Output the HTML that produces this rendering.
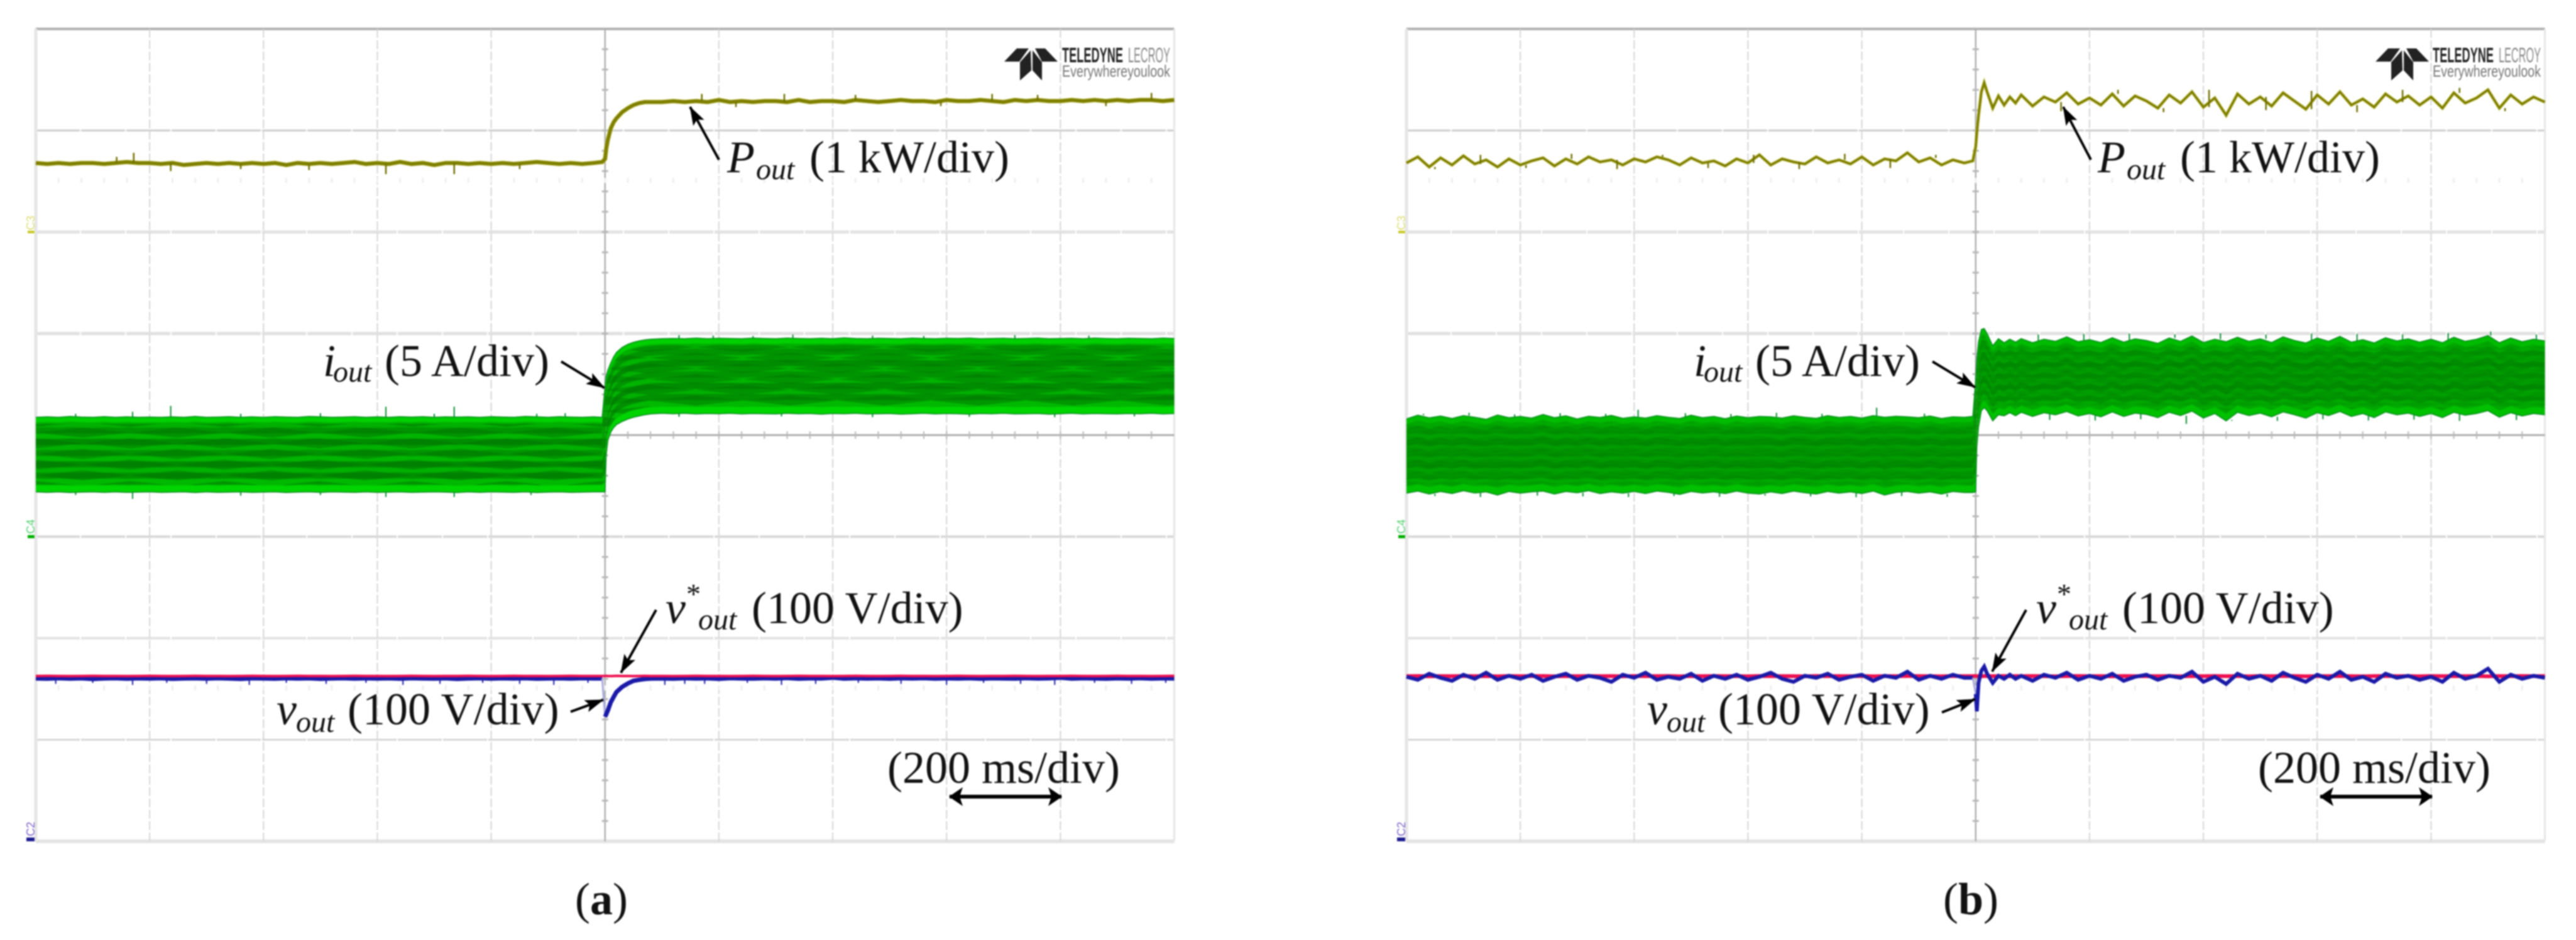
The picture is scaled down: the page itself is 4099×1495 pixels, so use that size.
<!DOCTYPE html>
<html lang="en">
<head>
<meta charset="utf-8">
<title>Oscilloscope step response, panels a and b</title>
<style>
html,body{margin:0;padding:0;background:#fff;}
body{width:4099px;height:1495px;overflow:hidden;}
svg{display:block;}
#plots,.annot{filter:blur(1px);}
text{font-family:"Liberation Serif",serif;fill:#111;}
.it{font-style:italic;}
.logo{font-family:"Liberation Sans",sans-serif;}
</style>
</head>
<body>
<svg id="figure" width="4099" height="1495" viewBox="0 0 4099 1495" xmlns="http://www.w3.org/2000/svg">
<defs>
<marker id="ah" markerWidth="30" markerHeight="20" refX="29" refY="10" orient="auto" markerUnits="userSpaceOnUse"><path d="M0 0L30 10L0 20L6 10z" fill="#000"/></marker>
<marker id="dh" markerWidth="22" markerHeight="30" refX="21" refY="15" orient="auto-start-reverse" markerUnits="userSpaceOnUse"><path d="M0 0L22 15L0 30L5 15z" fill="#000"/></marker>
<pattern id="moireA" patternUnits="userSpaceOnUse" x="57" y="0" width="150" height="34"><path d="M0 8L75 0L150 8L75 16zM-75 25L0 17L75 25L0 33zM75 25L150 17L225 25L150 33z" fill="#007400" opacity="0.5"/></pattern>
<pattern id="moireB" patternUnits="userSpaceOnUse" x="2238" y="0" width="70" height="18"><path d="M0 4L35 0L70 4L35 8zM-35 13L0 9L35 13L0 17zM35 13L70 9L105 13L70 17z" fill="#007400" opacity="0.22"/></pattern>
</defs>
<rect width="4099" height="1495" fill="#fff"/>
<g id="plots"></g>

<g class="annot">
  <g>
    <text class="it" x="1157" y="274" font-size="72">P</text><text class="it" x="1203" y="285" font-size="48">out</text><text x="1288" y="274" font-size="72">(1 kW/div)</text>
  </g>
  <line x1="1144" y1="254" x2="1098" y2="170" stroke="#000" stroke-width="4" marker-end="url(#ah)"/>
  <g>
    <text class="it" x="514" y="598" font-size="72">i</text><text class="it" x="530" y="607" font-size="48">out</text><text x="612" y="598" font-size="72">(5 A/div)</text>
  </g>
  <line x1="893" y1="575" x2="962" y2="617" stroke="#000" stroke-width="4" marker-end="url(#ah)"/>
  <g>
    <text class="it" x="1059" y="991" font-size="72">v</text><text x="1092" y="960" font-size="46">*</text><text class="it" x="1111" y="1001" font-size="48">out</text><text x="1196" y="991" font-size="72">(100 V/div)</text>
  </g>
  <line x1="1044" y1="970" x2="988" y2="1070" stroke="#000" stroke-width="4" marker-end="url(#ah)"/>
  <g>
    <text class="it" x="440" y="1152" font-size="72">v</text><text class="it" x="471" y="1164" font-size="48">out</text><text x="553" y="1152" font-size="72">(100 V/div)</text>
  </g>
  <line x1="908" y1="1132" x2="960" y2="1113" stroke="#000" stroke-width="4" marker-end="url(#ah)"/>
  <text x="1412" y="1245" font-size="72">(200 ms/div)</text>
  <line x1="1511" y1="1267" x2="1689" y2="1267" stroke="#000" stroke-width="6" marker-start="url(#dh)" marker-end="url(#dh)"/>
  <g>
    <polygon points="1598,98 1618,77 1637,77 1622,98" fill="#222"/>
    <polygon points="1647,77 1663,77 1683,98 1658,98" fill="#222"/>
    <polygon points="1623,99 1640,80 1641,112 1623,128" fill="#222"/>
    <polygon points="1643,80 1658,99 1658,128 1643,112" fill="#222"/>
    <text class="logo" x="1690" y="99" font-size="33" font-weight="700" textLength="97" lengthAdjust="spacingAndGlyphs" style="fill:#222">TELEDYNE</text>
    <text class="logo" x="1795" y="99" font-size="33" textLength="67" lengthAdjust="spacingAndGlyphs" style="fill:#888">LECROY</text>
    <text class="logo" x="1690" y="122" font-size="26" textLength="172" lengthAdjust="spacingAndGlyphs" style="fill:#777">Everywhereyoulook</text>
  </g>
  <text x="915" y="1454" font-size="72">(<tspan font-weight="700">a</tspan>)</text>
  <g>
    <text transform="translate(55,366) rotate(-90)" font-size="18" style="fill:#dcdc70;font-family:'Liberation Sans',sans-serif">C3</text>
    <rect x="44" y="367" width="11" height="4" fill="#c8c820"/>
    <text transform="translate(55,849) rotate(-90)" font-size="18" style="fill:#50d070;font-family:'Liberation Sans',sans-serif">C4</text>
    <rect x="44" y="851" width="11" height="5" fill="#00b000"/>
    <text transform="translate(55,1330) rotate(-90)" font-size="18" style="fill:#7a60c8;font-family:'Liberation Sans',sans-serif">C2</text>
    <rect x="42" y="1332" width="13" height="6" fill="#1a1a90"/>
  </g>
</g>

<g class="annot">
  <g>
    <text class="it" x="3338" y="274" font-size="72">P</text><text class="it" x="3384" y="285" font-size="48">out</text><text x="3469" y="274" font-size="72">(1 kW/div)</text>
  </g>
  <line x1="3327" y1="254" x2="3283" y2="170" stroke="#000" stroke-width="4" marker-end="url(#ah)"/>
  <g>
    <text class="it" x="2695" y="598" font-size="72">i</text><text class="it" x="2711" y="607" font-size="48">out</text><text x="2793" y="598" font-size="72">(5 A/div)</text>
  </g>
  <line x1="3075" y1="575" x2="3143" y2="616" stroke="#000" stroke-width="4" marker-end="url(#ah)"/>
  <g>
    <text class="it" x="3240" y="991" font-size="72">v</text><text x="3273" y="960" font-size="46">*</text><text class="it" x="3292" y="1001" font-size="48">out</text><text x="3377" y="991" font-size="72">(100 V/div)</text>
  </g>
  <line x1="3224" y1="970" x2="3170" y2="1068" stroke="#000" stroke-width="4" marker-end="url(#ah)"/>
  <g>
    <text class="it" x="2621" y="1152" font-size="72">v</text><text class="it" x="2652" y="1164" font-size="48">out</text><text x="2734" y="1152" font-size="72">(100 V/div)</text>
  </g>
  <line x1="3090" y1="1133" x2="3143" y2="1112" stroke="#000" stroke-width="4" marker-end="url(#ah)"/>
  <text x="3593" y="1245" font-size="72">(200 ms/div)</text>
  <line x1="3692" y1="1267" x2="3870" y2="1267" stroke="#000" stroke-width="6" marker-start="url(#dh)" marker-end="url(#dh)"/>
  <g>
    <polygon points="3780,98 3800,77 3819,77 3804,98" fill="#222"/>
    <polygon points="3829,77 3845,77 3865,98 3840,98" fill="#222"/>
    <polygon points="3805,99 3822,80 3823,112 3805,128" fill="#222"/>
    <polygon points="3825,80 3840,99 3840,128 3825,112" fill="#222"/>
    <text class="logo" x="3871" y="99" font-size="33" font-weight="700" textLength="97" lengthAdjust="spacingAndGlyphs" style="fill:#222">TELEDYNE</text>
    <text class="logo" x="3976" y="99" font-size="33" textLength="67" lengthAdjust="spacingAndGlyphs" style="fill:#888">LECROY</text>
    <text class="logo" x="3871" y="122" font-size="26" textLength="172" lengthAdjust="spacingAndGlyphs" style="fill:#777">Everywhereyoulook</text>
  </g>
  <text x="3092" y="1454" font-size="72">(<tspan font-weight="700">b</tspan>)</text>
  <g>
    <text transform="translate(2236,366) rotate(-90)" font-size="18" style="fill:#dcdc70;font-family:'Liberation Sans',sans-serif">C3</text>
    <rect x="2225" y="367" width="11" height="4" fill="#c8c820"/>
    <text transform="translate(2236,849) rotate(-90)" font-size="18" style="fill:#50d070;font-family:'Liberation Sans',sans-serif">C4</text>
    <rect x="2225" y="851" width="11" height="5" fill="#00b000"/>
    <text transform="translate(2236,1330) rotate(-90)" font-size="18" style="fill:#7a60c8;font-family:'Liberation Sans',sans-serif">C2</text>
    <rect x="2223" y="1332" width="13" height="6" fill="#1a1a90"/>
  </g>
</g>
</svg>

<script>
// Sample times in ms relative to the load step (200 ms/div, 10 divisions).
const timeMs = [
-1000,-980,-960,-940,-920,-900,-880,-860,-840,-820,
-800,-780,-760,-740,-720,-700,-680,-660,-640,-620,
-600,-580,-560,-540,-520,-500,-480,-460,-440,-420,
-400,-380,-360,-340,-320,-300,-280,-260,-240,-220,
-200,-180,-160,-140,-120,-100,-80,-60,-40,-20,
-5,0,2,5,10,15,20,30,40,50,60,70,80,
100,120,140,160,180,200,220,240,260,280,
300,320,340,360,380,400,420,440,460,480,
500,520,540,560,580,600,620,640,660,680,
700,720,740,760,780,800,820,840,860,880,
900,920,940,960,980,1000];

// Panel (a): output power in kW.
const powerA = [
.68,.67,.68,.67,.68,.68,.67,.68,.69,.68,
.68,.67,.68,.66,.67,.68,.67,.68,.67,.68,
.67,.68,.66,.68,.67,.68,.67,.68,.69,.67,
.68,.67,.69,.67,.68,.66,.68,.68,.67,.68,
.67,.68,.67,.68,.69,.68,.67,.68,.67,.68,
.69,.72,.82,.91,1.02,1.08,1.12,1.18,1.22,1.25,1.27,1.28,1.28,
1.28,1.29,1.28,1.29,1.28,1.30,1.28,1.29,1.28,1.29,
1.29,1.28,1.30,1.28,1.29,1.29,1.28,1.30,1.29,1.28,
1.29,1.30,1.29,1.29,1.28,1.30,1.29,1.29,1.30,1.29,
1.28,1.30,1.29,1.30,1.29,1.29,1.30,1.29,1.30,1.29,
1.30,1.29,1.30,1.30,1.29,1.30];
const powerSpikeTimesA = [-858,-828,-763,-640,-520,-385,-265,-150,170,230,315,440,590,680,760,880,960];
const powerSpikeValuesA = [.74,.78,.60,.62,.61,.57,.57,.62,1.36,1.23,1.36,1.35,1.24,1.36,1.35,1.24,1.37];

// Panel (a): output current envelope in A.
const currentUpperA = [
5.88,5.90,5.88,5.92,5.89,5.88,5.91,5.88,5.90,5.88,
5.89,5.88,5.90,5.88,5.92,5.88,5.89,5.91,5.88,5.90,
5.88,5.91,5.89,5.88,5.92,5.90,5.88,5.89,5.91,5.88,
5.90,5.88,5.91,5.89,5.91,5.88,5.90,5.89,5.90,5.88,
5.91,5.89,5.88,5.92,5.90,5.88,5.91,5.89,5.88,5.90,
5.88,7.45,7.90,8.20,8.55,8.85,9.07,9.32,9.47,9.57,9.64,9.69,9.72,
9.75,9.76,9.75,9.78,9.75,9.77,9.76,9.75,9.78,9.76,
9.75,9.78,9.76,9.75,9.77,9.75,9.79,9.76,9.75,9.77,
9.76,9.75,9.78,9.76,9.75,9.77,9.76,9.78,9.75,9.76,
9.77,9.75,9.76,9.78,9.75,9.76,9.77,9.75,9.78,9.76,
9.75,9.77,9.76,9.75,9.78,9.76];
const currentLowerA = [
2.20,2.18,2.20,2.17,2.19,2.20,2.18,2.20,2.18,2.19,
2.20,2.18,2.19,2.20,2.17,2.20,2.18,2.19,2.20,2.18,
2.19,2.20,2.17,2.19,2.20,2.18,2.20,2.19,2.18,2.20,
2.18,2.19,2.20,2.18,2.19,2.20,2.19,2.17,2.20,2.18,
2.20,2.19,2.18,2.20,2.17,2.19,2.20,2.18,2.19,2.20,
2.20,2.20,4.00,4.74,5.14,5.36,5.51,5.67,5.79,5.88,5.94,6.00,6.04,
6.07,6.05,6.07,6.04,6.06,6.05,6.07,6.04,6.06,6.05,
6.04,6.07,6.05,6.06,6.03,6.06,6.05,6.07,6.04,6.05,
6.06,6.03,6.05,6.07,6.04,6.06,6.05,6.03,6.06,6.05,
6.07,6.04,6.05,6.06,6.03,6.05,6.07,6.04,6.06,6.05,
6.04,6.06,6.05,6.07,6.04,6.06];
const currentUpSpikeTimesA = [-930,-830,-763,-640,-500,-385,-300,-265,-120,-70,130,190,260,330,470,560,720,850];
const currentUpSpikeValuesA = [6.05,6.15,6.44,6.05,6.08,6.40,6.05,6.40,6.05,6.08,9.92,9.90,9.88,9.95,9.90,9.88,9.92,9.90];
const currentDownSpikeTimesA = [-930,-830,-640,-500,-385,-265,-130,130,310,470,640,790,930];
const currentDownSpikeValuesA = [2.05,1.86,2.02,2.05,1.95,1.95,2.05,5.90,5.92,5.88,5.90,5.88,5.92];

// Panel (a): output voltage and its reference in V.
const voltageA = [
160.4,160.1,160.6,160.2,160.5,159.8,160.4,160.6,160.1,160.5,
160.3,160.6,160.0,160.4,160.5,160.2,160.6,160.3,159.9,160.5,
160.4,160.1,160.6,160.3,160.5,160.0,160.4,160.6,160.2,160.5,
160.3,160.5,160.1,160.6,160.4,160.2,160.5,159.9,160.4,160.6,
160.2,160.5,160.3,160.6,160.1,160.4,160.5,160.2,160.6,160.4,
160.4,122.6,125.0,129.0,136.8,142.0,147.0,152.0,155.4,158.0,159.0,159.8,160.2,
160.4,160.1,160.6,160.3,160.5,160.0,160.7,160.4,160.2,160.6,
160.3,160.8,160.1,160.5,160.4,161.2,160.2,160.6,160.3,160.5,
160.1,160.6,160.4,160.7,160.2,160.5,160.3,160.6,160.1,160.5,
160.4,160.2,160.7,160.3,160.5,161.1,160.2,160.6,160.4,160.1,
160.5,160.3,160.7,160.2,160.5,160.4];
const voltageSpikeTimesA = [-965,-900,-830,-770,-700,-625,-560,-490,-420,-355,-290,-215,-150,-90,-30,105,140,175,250,310,370,445,520,600,665,730,790,860,925,985];
const voltageSpikeValuesA = [155,156,154,156,155,154,156,155,156,154,155,156,155,154,156,154,155,155,156,154,155,156,155,154,156,155,154,156,155,156];
const voltageRefA = [
162.8,162.9,162.8,162.7,162.8,162.9,162.8,162.8,162.7,162.8,
162.9,162.8,162.7,162.8,162.9,162.8,162.8,162.7,162.8,162.9,
162.8,162.7,162.8,162.9,162.8,162.8,162.7,162.8,162.9,162.8,
162.8,162.7,162.8,162.9,162.8,162.7,162.8,162.8,162.9,162.8,
162.7,162.8,162.9,162.8,162.8,162.7,162.8,162.9,162.8,162.8,
162.8,162.8,162.9,162.8,162.7,162.8,162.9,162.8,162.8,162.7,162.8,162.9,162.8,
162.8,162.7,162.8,162.9,162.8,162.8,162.7,162.8,162.9,162.8,
162.7,162.8,162.9,162.8,162.8,162.7,162.8,162.9,162.8,162.7,
162.8,162.9,162.8,162.8,162.7,162.8,162.9,162.8,162.7,162.8,
162.8,162.9,162.8,162.7,162.8,162.8,162.9,162.8,162.7,162.8,
162.9,162.8,162.8,162.7,162.8,162.9];

// Panel (b): output power in kW.
const powerB = [
.68,.74,.64,.73,.66,.75,.67,.71,.64,.72,
.66,.70,.73,.65,.72,.67,.74,.69,.71,.66,
.72,.69,.74,.71,.66,.73,.68,.70,.65,.72,
.68,.76,.66,.72,.69,.67,.74,.68,.71,.67,
.74,.66,.72,.70,.78,.69,.73,.66,.71,.68,
.70,.84,.98,1.15,1.38,1.47,1.38,1.22,1.34,1.25,1.33,1.27,1.35,
1.24,1.33,1.28,1.37,1.26,1.32,1.25,1.36,1.24,1.34,
1.29,1.22,1.35,1.27,1.38,1.23,1.32,1.15,1.36,1.26,
1.33,1.24,1.37,1.29,1.21,1.35,1.26,1.38,1.25,1.31,
1.23,1.36,1.28,1.34,1.25,1.33,1.22,1.37,1.27,1.32,
1.40,1.22,1.35,1.26,1.33,1.28];
const powerSpikeTimesB = [-950,-870,-790,-710,-630,-550,-470,-390,-310,-230,-150,-70,150,250,330,410,510,590,670,750,850,930];
const powerSpikeValuesB = [.62,.76,.63,.77,.62,.76,.63,.76,.62,.77,.63,.76,1.19,1.40,1.18,1.40,1.20,1.39,1.18,1.40,1.42,1.19];

// Panel (b): output current envelope in A.
const currentUpperB = [
5.80,5.98,5.85,5.94,5.82,5.96,5.88,5.78,5.99,5.86,
5.92,5.84,6.02,5.86,5.95,5.80,5.93,5.87,5.97,5.83,
5.90,5.84,5.96,5.88,5.82,5.98,5.86,5.92,5.81,5.94,
5.86,5.92,5.90,5.84,5.95,5.88,5.83,5.96,5.87,5.92,
5.84,5.96,5.88,5.93,5.90,5.86,5.94,5.82,5.90,5.88,
5.92,7.80,8.80,9.60,10.20,10.25,10.00,9.40,9.75,9.55,9.72,9.58,9.75,
9.55,9.72,9.62,9.84,9.60,9.70,9.56,9.80,9.58,9.74,
9.66,9.52,9.78,9.62,9.88,9.56,9.72,9.60,9.82,9.62,
9.74,9.56,9.84,9.66,9.54,9.78,9.62,9.86,9.58,9.70,
9.54,9.80,9.64,9.74,9.58,9.72,9.55,9.82,9.62,9.72,
9.90,9.55,9.78,9.60,9.72,9.64];
const currentLowerB = [
2.14,2.24,2.10,2.22,2.12,2.26,2.15,2.20,2.05,2.22,
2.14,2.20,2.24,2.10,2.22,2.16,2.26,2.12,2.20,2.14,
2.22,2.12,2.24,2.18,2.08,2.22,2.15,2.20,2.12,2.24,
2.14,2.10,2.20,2.12,2.24,2.16,2.10,2.22,2.14,2.20,
2.12,2.24,2.05,2.18,2.22,2.14,2.20,2.10,2.22,2.17,
2.17,2.20,4.40,5.40,6.20,6.35,6.20,5.70,6.00,5.95,6.10,5.95,6.12,
5.92,6.10,6.00,6.16,5.94,6.06,5.90,6.14,5.92,6.08,
6.02,5.86,6.12,5.96,6.18,5.84,6.06,5.70,6.12,5.96,
6.08,5.90,6.14,6.00,5.84,6.10,5.96,6.16,5.92,6.06,
5.86,6.14,6.00,6.08,5.92,6.06,5.86,6.12,5.98,6.06,
6.20,5.88,6.10,5.94,6.06,6.00];
const currentUpSpikeTimesB = [-970,-890,-810,-730,-650,-593,-510,-430,-350,-270,-174,-90,110,190,270,350,430,510,590,670,750,830,905,985];
const currentUpSpikeValuesB = [6.05,6.10,6.02,6.08,6.05,6.25,6.08,6.04,6.10,6.05,6.35,6.06,9.95,9.98,10.0,9.96,10.02,9.95,10.0,9.98,9.96,10.02,10.1,9.95];
const currentDownSpikeTimesB = [-950,-870,-770,-690,-610,-530,-450,-370,-290,-210,-130,-50,130,210,290,370,450,530,610,690,770,850,950];
const currentDownSpikeValuesB = [2.0,1.95,2.02,1.98,1.95,2.0,1.96,2.02,1.98,1.94,2.0,1.96,5.75,5.72,5.78,5.55,5.75,5.70,5.78,5.72,5.76,5.70,5.74];

// Panel (b): output voltage and its reference in V.
const voltageB = [
162,159,165,161,158,164,160,166,159,163,
160,164,158,162,165,159,163,161,157,164,
161,166,159,162,160,165,158,163,160,164,
159,162,166,160,157,163,161,165,159,162,
164,158,163,161,167,159,163,160,164,161,
161,145,128,156,168,172,165,156,163,160,164,160,163,
158,164,161,166,159,163,160,165,158,162,
164,159,163,161,167,157,162,155,165,160,
163,158,166,161,157,164,160,167,159,162,
157,165,161,163,159,162,157,166,160,163,
170,157,164,160,163,161];
const voltageRefB = [
162.6,162.8,162.5,162.7,162.6,162.8,162.6,162.7,162.5,162.8,
162.6,162.7,162.8,162.5,162.7,162.6,162.8,162.6,162.7,162.5,
162.8,162.6,162.7,162.8,162.5,162.7,162.6,162.8,162.6,162.7,
162.5,162.8,162.6,162.7,162.6,162.5,162.8,162.6,162.7,162.6,
162.8,162.5,162.7,162.6,162.8,162.7,162.6,162.5,162.8,162.6,
162.7,162.8,162.6,162.7,162.5,162.8,162.6,162.7,162.6,162.8,162.5,162.7,162.6,
162.8,162.6,162.5,162.7,162.8,162.6,162.7,162.5,162.8,162.6,
162.7,162.6,162.8,162.5,162.7,162.6,162.8,162.6,162.7,162.5,
162.8,162.6,162.7,162.8,162.5,162.6,162.7,162.8,162.6,162.5,
162.7,162.8,162.6,162.7,162.5,162.8,162.6,162.7,162.6,162.8,
162.5,162.7,162.6,162.8,162.6,162.7];

// Styling of the moire stripes inside the current band.
const stripeStops = [0,.07,.14,.22,.29,.37,.44,.52,.59,.67,.74,.82,.91,1];
const stripeColoursA = ['#00d000','#00b000','#009400','#00b400','#008c00','#00b000','#009400','#00b400','#008c00','#00b000','#009000','#00b800','#00d400'];
const stripeColoursB = ['#00bc00','#00a800','#009400','#00a000','#008c00','#009c00','#009000','#009c00','#008c00','#00a000','#009400','#00a800','#00c000'];

const SVG_NS = 'http://www.w3.org/2000/svg';
const DIV_W = 181.15;
const DIV_H = 161.5;
const TOP = 46;
const plotsRoot = document.getElementById('plots');

// Axis functions: one time axis, and one vertical axis per scope channel.
function xTime(panel, t) { return panel.left + (t + 1000) / 2000 * (DIV_W * 10); }
function yPower(kw) { return TOP + 2 * DIV_H - kw * DIV_H; }
function yCurrent(a) { return TOP + 5 * DIV_H - (a / 5) * DIV_H; }
function yVoltage(v) { return TOP + 8 * DIV_H - (v / 100) * DIV_H; }

function svgEl(tag, attrs, parent) {
  const node = document.createElementNS(SVG_NS, tag);
  for (const key in attrs) node.setAttribute(key, attrs[key]);
  parent.appendChild(node);
  return node;
}
function linePoints(panel, values, yFn, from, to) {
  const pts = [];
  for (let i = from; i < to; i++) pts.push(xTime(panel, timeMs[i]).toFixed(1) + ',' + yFn(values[i]).toFixed(1));
  return pts.join(' ');
}
function nearestIndex(t) {
  let best = 0;
  for (let i = 1; i < timeMs.length; i++) if (Math.abs(timeMs[i] - t) < Math.abs(timeMs[best] - t)) best = i;
  return best;
}

function drawGrid(panel, g) {
  const right = panel.left + DIV_W * 10;
  const bottom = TOP + DIV_H * 8;
  const rowStyles = [
    ['#b0b0b0', 4], ['#cdcdcd', 3], ['#e2e2e2', 5], ['#e0e0e0', 5], null,
    ['#d8d8d8', 4], ['#e2e2e2', 4], ['#d6d6d6', 3], ['#e4e4e4', 6]
  ];
  for (let r = 0; r <= 8; r++) {
    if (!rowStyles[r]) continue;
    const el = svgEl('line', {x1: panel.left, x2: right, y1: TOP + r * DIV_H, y2: TOP + r * DIV_H, stroke: rowStyles[r][0], 'stroke-width': rowStyles[r][1], 'stroke-dasharray': (r === 0 || r === 8) ? 'none' : '70 2'}, g);
    
    
  }
  for (let c = 0; c <= 10; c++) {
    if (c === 5) continue;
    const x = panel.left + c * DIV_W;
    const edge = c === 0 || c === 10;
    const el = svgEl('line', {x1: x, x2: x, y1: TOP, y2: bottom, stroke: edge ? '#e6e6e6' : '#d6d6d6', 'stroke-width': c === 0 ? 5 : (edge ? 3 : 2), 'stroke-dasharray': edge ? 'none' : '14 4'}, g);
    
    
  }
  const cx = panel.left + 5 * DIV_W;
  const cy = TOP + 4 * DIV_H;
  const centreV = svgEl('line', {x1: cx, x2: cx, y1: TOP, y2: bottom, stroke: '#b0b0b0', 'stroke-width': 2.5}, g);
  
  
  const centreH = svgEl('line', {x1: panel.left, x2: right, y1: cy, y2: cy, stroke: '#adadad', 'stroke-width': 3}, g);
  
  
  for (let k = 1; k < 40; k++) {
    const ty = TOP + k * DIV_H / 5;
    const tick = svgEl('line', {x1: cx - 5, x2: cx + 5, y1: ty, y2: ty, stroke: '#b8b8b8', 'stroke-width': 3}, g);
    
    
  }
  for (let k = 1; k < 50; k++) {
    const tx = panel.left + k * DIV_W / 5;
    const tick = svgEl('line', {x1: tx, x2: tx, y1: cy - 6, y2: cy + 6, stroke: '#b8b8b8', 'stroke-width': 2}, g);
    
    
    for (const ghostY of [287, 1094]) {
      const ghost = svgEl('line', {x1: tx, x2: tx, y1: ghostY - 4, y2: ghostY + 4, stroke: '#efefef', 'stroke-width': 3}, g);
      
      
    }
  }
}

function drawSpikes(panel, times, values, base, yFn, colour, width, g) {
  for (let i = 0; i < times.length; i++) {
    const x = xTime(panel, times[i]);
    const spike = svgEl('line', {x1: x, x2: x, y1: yFn(base[nearestIndex(times[i])]), y2: yFn(values[i]), stroke: colour, 'stroke-width': width}, g);
    
    
  }
}

function drawCurrentBand(panel, upper, lower, colours, g) {
  const n = timeMs.length;
  for (let s = 0; s < colours.length; s++) {
    const f0 = stripeStops[s];
    const f1 = stripeStops[s + 1] + (s < colours.length - 1 ? 0.01 : 0);
    const top = [];
    const bot = [];
    for (let i = 0; i < n; i++) {
      const x = xTime(panel, timeMs[i]).toFixed(1);
      top.push(x + ',' + yCurrent(upper[i] + (lower[i] - upper[i]) * f0).toFixed(1));
      bot.unshift(x + ',' + yCurrent(upper[i] + (lower[i] - upper[i]) * f1).toFixed(1));
    }
    const stripe = svgEl('polygon', {points: top.concat(bot).join(' '), fill: colours[s]}, g);
    
    
  }
  const top2 = [];
  const bot2 = [];
  for (let i = 0; i < n; i++) {
    const x = xTime(panel, timeMs[i]).toFixed(1);
    top2.push(x + ',' + yCurrent(upper[i] + (lower[i] - upper[i]) * 0.09).toFixed(1));
    bot2.unshift(x + ',' + yCurrent(upper[i] + (lower[i] - upper[i]) * 0.9).toFixed(1));
  }
  const overlay = svgEl('polygon', {points: top2.concat(bot2).join(' '), fill: 'url(#' + panel.moire + ')'}, g);
  
  
  const edgeTop = svgEl('polyline', {points: linePoints(panel, upper, yCurrent, 0, n), fill: 'none', stroke: '#0a8a20', 'stroke-width': 1.5}, g);
  
  
  const edgeBot = svgEl('polyline', {points: linePoints(panel, lower, yCurrent, 0, n), fill: 'none', stroke: '#0a8a20', 'stroke-width': 1.5}, g);
  
  
}

function drawVoltage(panel, values, width, g) {
  const n = timeMs.length;
  const stepIndex = timeMs.indexOf(0);
  const before = svgEl('polyline', {points: linePoints(panel, values, yVoltage, 0, stepIndex), fill: 'none', stroke: '#1a1aa8', 'stroke-width': width}, g);
  
  
  const bridge = svgEl('polyline', {points: linePoints(panel, values, yVoltage, stepIndex - 1, stepIndex + 1), fill: 'none', stroke: '#a8a8dc', 'stroke-width': 3}, g);
  
  
  const after = svgEl('polyline', {points: linePoints(panel, values, yVoltage, stepIndex, n), fill: 'none', stroke: '#1a1aa8', 'stroke-width': width}, g);
  
  
}

function drawPanel(panel, series, name) {
  const g = svgEl('g', {}, plotsRoot);
  
  
  drawGrid(panel, g);
  const n = timeMs.length;
  const halo = svgEl('polyline', {points: linePoints(panel, series.power, yPower, 0, n), fill: 'none', stroke: '#d8d860', 'stroke-width': panel.powerWidth + 2, opacity: 0.5}, g);
  
  
  const powerLine = svgEl('polyline', {points: linePoints(panel, series.power, yPower, 0, n), fill: 'none', stroke: '#808000', 'stroke-width': panel.powerWidth}, g);
  
  
  drawSpikes(panel, series.powerSpikeTimes, series.powerSpikeValues, series.power, yPower, '#6e6e00', 2.5, g);
  drawSpikes(panel, series.upSpikeTimes, series.upSpikeValues, series.upper, yCurrent, '#0a8a30', 2, g);
  drawSpikes(panel, series.downSpikeTimes, series.downSpikeValues, series.lower, yCurrent, '#0a8a30', 2, g);
  drawCurrentBand(panel, series.upper, series.lower, series.colours, g);
  if (!panel.refOnTop) {
    const refLine = svgEl('polyline', {points: linePoints(panel, series.reference, yVoltage, 0, n), fill: 'none', stroke: '#ee1050', 'stroke-width': 6}, g);
    
    
  }
  drawVoltage(panel, series.voltage, panel.voltageWidth, g);
  if (series.voltageSpikeTimes) drawSpikes(panel, series.voltageSpikeTimes, series.voltageSpikeValues, series.voltage, yVoltage, '#1a1aa8', 2, g);
  if (panel.refOnTop) {
    const topRef = svgEl('polyline', {points: linePoints(panel, series.reference, yVoltage, 0, n), fill: 'none', stroke: '#ee1050', 'stroke-width': 4}, g);
    
    
  }
}

const panelA = {left: 57, powerWidth: 6, voltageWidth: 7, refOnTop: true, moire: 'moireA'};
const panelB = {left: 2238, powerWidth: 4, voltageWidth: 6, refOnTop: false, moire: 'moireB'};
drawPanel(panelA, {power: powerA, upper: currentUpperA, lower: currentLowerA, voltage: voltageA, reference: voltageRefA, colours: stripeColoursA, powerSpikeTimes: powerSpikeTimesA, powerSpikeValues: powerSpikeValuesA, upSpikeTimes: currentUpSpikeTimesA, upSpikeValues: currentUpSpikeValuesA, downSpikeTimes: currentDownSpikeTimesA, downSpikeValues: currentDownSpikeValuesA, voltageSpikeTimes: voltageSpikeTimesA, voltageSpikeValues: voltageSpikeValuesA}, 'panel-a-plot');
drawPanel(panelB, {power: powerB, upper: currentUpperB, lower: currentLowerB, voltage: voltageB, reference: voltageRefB, colours: stripeColoursB, powerSpikeTimes: powerSpikeTimesB, powerSpikeValues: powerSpikeValuesB, upSpikeTimes: currentUpSpikeTimesB, upSpikeValues: currentUpSpikeValuesB, downSpikeTimes: currentDownSpikeTimesB, downSpikeValues: currentDownSpikeValuesB}, 'panel-b-plot');
</script>
</body>
</html>
